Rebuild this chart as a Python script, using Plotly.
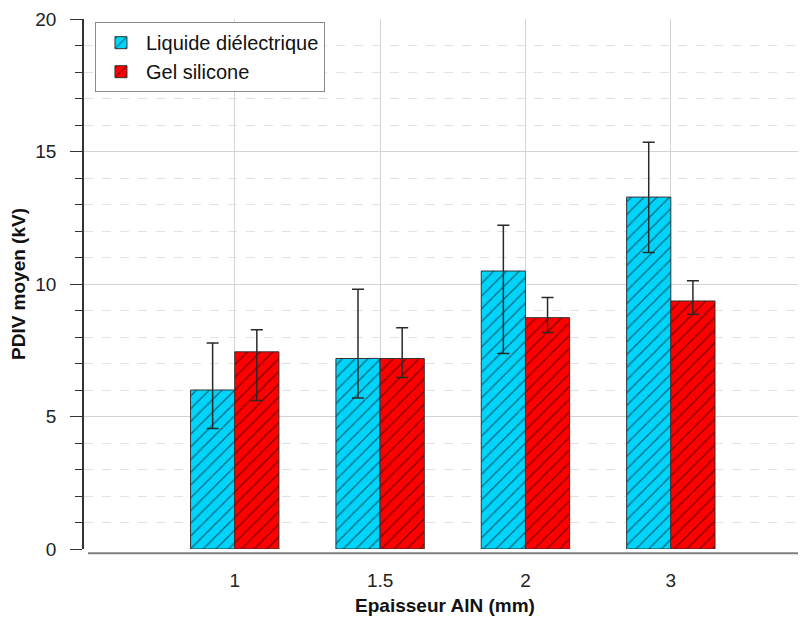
import plotly.graph_objects as go

categories = ["1", "1.5", "2", "3"]
liquide_mean = [6.00, 7.19, 10.49, 13.28]
liquide_high = [7.77, 9.80, 12.22, 15.35]
liquide_low = [4.55, 5.70, 7.38, 11.19]
gel_mean = [7.44, 7.19, 8.73, 9.36]
gel_high = [8.27, 8.35, 9.49, 10.12]
gel_low = [5.60, 6.47, 8.17, 8.86]

FONT = "Liberation Sans, Arial, Helvetica, sans-serif"

def errs(mean, hi, lo):
    return dict(type="data", symmetric=False,
                array=[h - m for h, m in zip(hi, mean)],
                arrayminus=[m - l for m, l in zip(mean, lo)],
                color="#2a2a2a", thickness=1.5, width=6)

fig = go.Figure()
fig.add_trace(go.Bar(
    x=categories, y=liquide_mean, name="Liquide diélectrique",
    marker=dict(color="#00D4FA", line=dict(color="#333333", width=1),
                pattern=dict(shape="/", fgcolor="#000000", size=9, solidity=0.14)),
    error_y=errs(liquide_mean, liquide_high, liquide_low)))
fig.add_trace(go.Bar(
    x=categories, y=gel_mean, name="Gel silicone",
    marker=dict(color="#FF0000", line=dict(color="#333333", width=1),
                pattern=dict(shape="/", fgcolor="#000000", size=9, solidity=0.14)),
    error_y=errs(gel_mean, gel_high, gel_low)))

fig.add_shape(type="line", xref="paper", yref="paper",
              x0=0.0055, x1=1.0, y0=-0.008, y1=-0.008,
              line=dict(color="#808080", width=2))

# page has an 8px body margin: compensate so the plot sits where the reference has it
fig.update_layout(
    width=798, height=611,
    margin=dict(l=76, r=0, t=11, b=70),
    paper_bgcolor="white", plot_bgcolor="white",
    barmode="group", bargap=0.392, bargroupgap=0,
    font=dict(family=FONT, size=19, color="#222222"),
    showlegend=True,
    legend=dict(x=0.0152, y=0.994, xanchor="left", yanchor="top",
                bordercolor="#8a8a8a", borderwidth=1, bgcolor="white",
                font=dict(size=20, color="#111111"),
                itemwidth=40, tracegroupgap=2),
    xaxis=dict(type="category", range=[-1.037, 3.93],
               showgrid=True, gridcolor="#d4d4d4", gridwidth=1,
               showline=False, zeroline=False, ticks="",
               ticklabelstandoff=18,
               title=dict(text="<b>Epaisseur AlN (mm)</b>", standoff=8,
                          font=dict(size=19, color="#111111"))),
    yaxis=dict(range=[0, 20], dtick=5, tick0=0,
               showgrid=True, gridcolor="#d4d4d4", gridwidth=1,
               showline=True, linecolor="#333333", linewidth=1.5,
               zeroline=False, ticks="outside", ticklen=12, tickwidth=1.2,
               tickcolor="#333333", ticklabelstandoff=10,
               minor=dict(dtick=1, ticks="outside", ticklen=7, tickwidth=1,
                          tickcolor="#333333", showgrid=True,
                          gridcolor="#e2e2e2", griddash="dash"),
               title=dict(text="<b>PDIV moyen (kV)</b>", standoff=10,
                          font=dict(size=19, color="#111111"))),
)

fig.write_html("out.html")
